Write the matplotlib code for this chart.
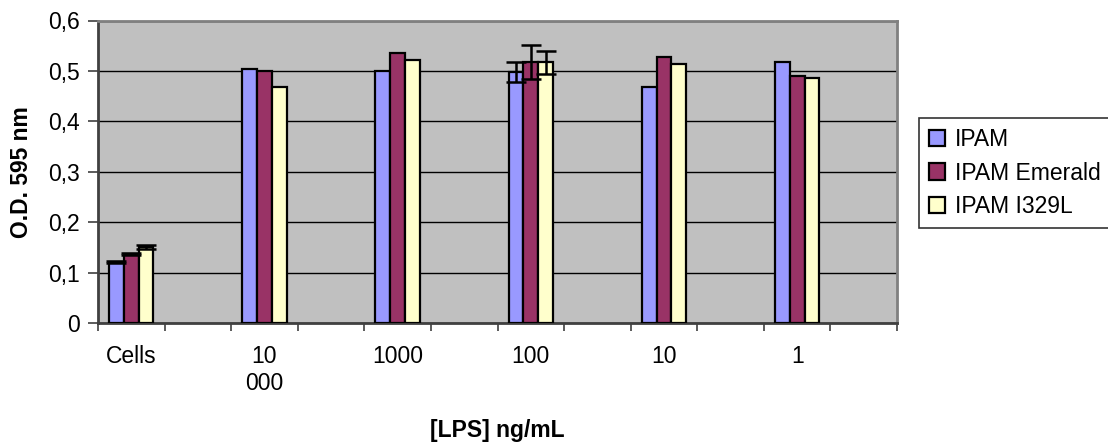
import numpy as np
import matplotlib
matplotlib.use("Agg")
import matplotlib.pyplot as plt
from matplotlib.ticker import FixedLocator, FuncFormatter

plt.rcParams['font.family'] = ['Liberation Sans', 'DejaVu Sans']

# data
categories = ["Cells", "10 000", "1000", "100", "10", "1"]
tick_labels = ["Cells", "10\n000", "1000", "100", "10", "1"]
series_names = ["IPAM", "IPAM Emerald", "IPAM I329L"]
ipam = [0.121, 0.503, 0.500, 0.498, 0.469, 0.517]
emerald = [0.136, 0.500, 0.535, 0.517, 0.527, 0.489]
i329l = [0.151, 0.469, 0.521, 0.517, 0.514, 0.486]
ipam_err = [0.002, np.nan, np.nan, 0.020, np.nan, np.nan]
emerald_err = [0.002, np.nan, np.nan, 0.034, np.nan, np.nan]
i329l_err = [0.004, np.nan, np.nan, 0.023, np.nan, np.nan]

colors = ["#9999FF", "#993366", "#FFFFCC"]

fig = plt.figure(figsize=(11.08, 4.46), dpi=100)
ax = fig.add_axes([98/1108, 1-323/446, (897-98)/1108, (323-20.5)/446])
ax.set_facecolor("#C0C0C0")

# each category sits in every other slot, as in the original sheet
n_slots = 2 * len(categories)
pos = np.arange(len(categories)) * 2
w = 1 / 4.5

values = [ipam, emerald, i329l]
errors = [ipam_err, emerald_err, i329l_err]
for k, (vals, errs) in enumerate(zip(values, errors)):
    x = pos + (k - 1) * w
    ax.bar(x, vals, width=w, color=colors[k], edgecolor="black",
           linewidth=1.6, label=series_names[k], zorder=3)
    errs = np.array(errs)
    m = ~np.isnan(errs)
    ax.errorbar(x[m], np.array(vals)[m], yerr=errs[m], fmt="none",
                ecolor="black", elinewidth=1.8, capsize=7, capthick=1.8,
                zorder=4)

ax.set_xlim(-0.5, n_slots - 0.5)
ax.set_ylim(0, 0.6)
ax.set_yticks(np.arange(0, 0.61, 0.1))
ax.yaxis.set_major_formatter(FuncFormatter(
    lambda v, p: "0" if abs(v) < 1e-9 else f"{v:.1f}".replace(".", ",")))
ax.grid(axis="y", color="black", linewidth=1.0, zorder=1)

ax.xaxis.set_major_locator(FixedLocator(np.arange(-0.5, n_slots, 1.0)))
ax.set_xticklabels([])
ax.set_xticks(pos, tick_labels, minor=True)
ax.tick_params(axis="x", which="minor", length=0, pad=16, labelsize=16.5)
ax.tick_params(axis="x", which="major", length=6, width=1.2,
               color="#404040")
ax.tick_params(axis="y", length=7, width=1.2, color="#404040",
               pad=6, labelsize=16.5)

for s in ax.spines.values():
    s.set_color("#808080")
    s.set_linewidth(2)
ax.spines["left"].set_color("#404040")
ax.spines["bottom"].set_color("#404040")

fig.text(21.5/1108, 1-172/446, "O.D. 595 nm", rotation=90, ha="center",
         va="center", fontsize=16.5, fontweight="bold")
fig.text(497.5/1108, 1-430/446, "[LPS] ng/mL", ha="center", va="center",
         fontsize=16.5, fontweight="bold")

leg = fig.legend(loc="center left", bbox_to_anchor=(919/1108, 1-173/446),
                 fontsize=16.5, frameon=True, fancybox=False,
                 edgecolor="black", handlelength=0.7, handleheight=0.7,
                 handletextpad=0.4, labelspacing=0.45, borderpad=0.45,
                 borderaxespad=0)
leg.get_frame().set_linewidth(1.2)

fig.savefig("out.png", dpi=100)
